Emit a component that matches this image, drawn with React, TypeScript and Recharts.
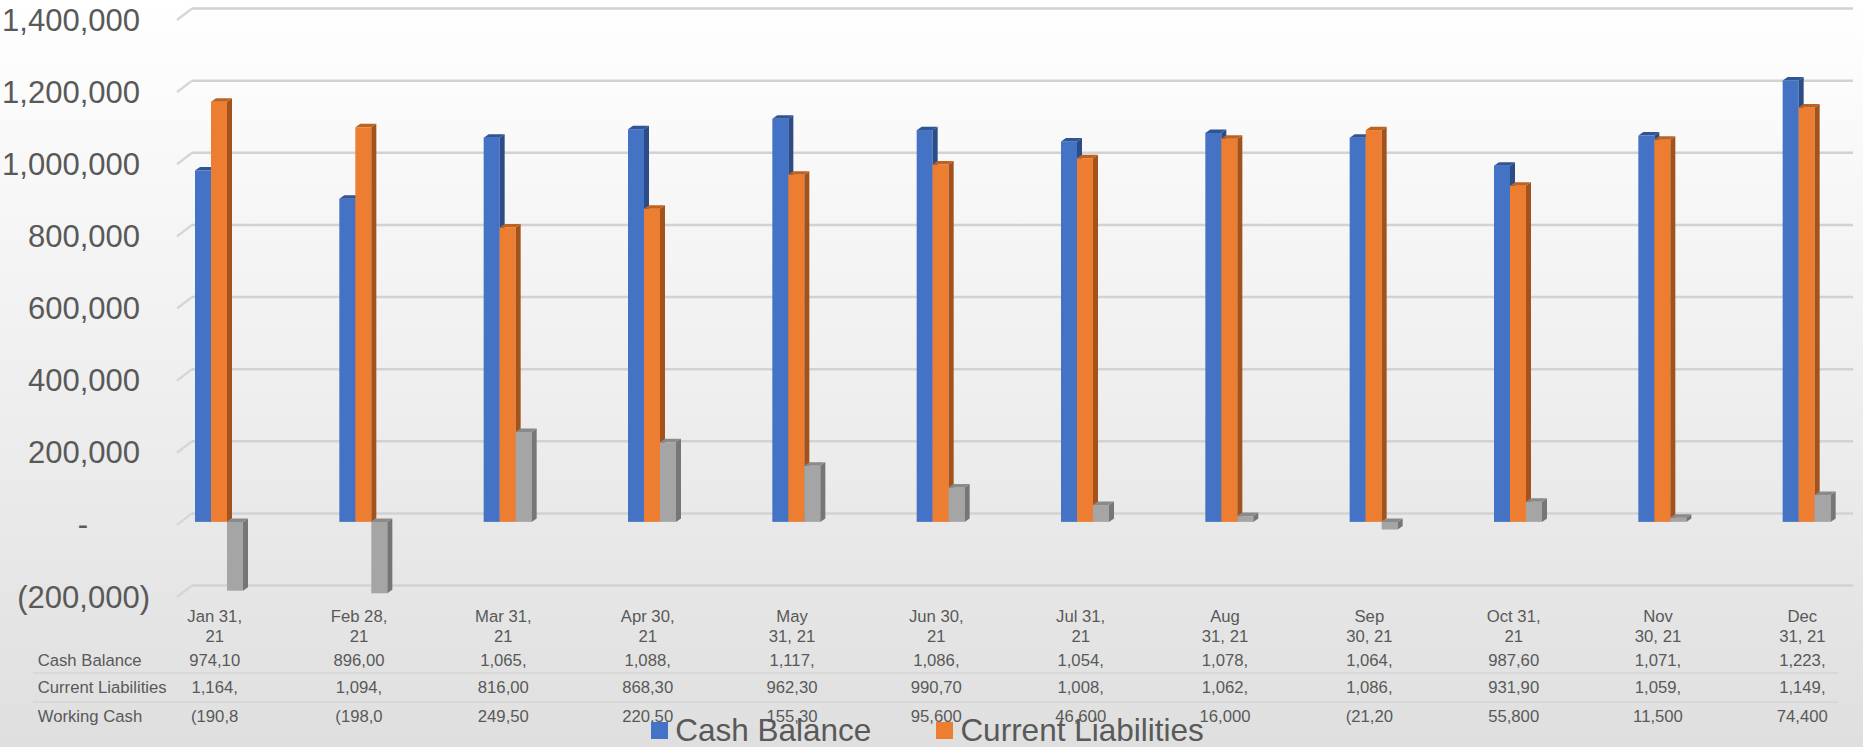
import React from 'react';
import { BarChart, Bar, XAxis, YAxis, CartesianGrid } from 'recharts';

const categories = [
  'Jan 31,\n21', 'Feb 28,\n21', 'Mar 31,\n21', 'Apr 30,\n21', 'May\n31, 21', 'Jun 30,\n21',
  'Jul 31,\n21', 'Aug\n31, 21', 'Sep\n30, 21', 'Oct 31,\n21', 'Nov\n30, 21', 'Dec\n31, 21',
];
const cashBalance = [974100, 896000, 1065500, 1088800, 1117600, 1086300, 1054900, 1078500, 1064900, 987600, 1071100, 1223600];
const currentLiabilities = [1164900, 1094000, 816000, 868300, 962300, 990700, 1008300, 1062500, 1086100, 931900, 1059600, 1149200];
const workingCash = [-190800, -198000, 249500, 220500, 155300, 95600, 46600, 16000, -21200, 55800, 11500, 74400];
const yTicks = [-200000, 0, 200000, 400000, 600000, 800000, 1000000, 1200000, 1400000];

const series = [
  { key: 'cash', name: 'Cash Balance', values: cashBalance, color: '#4472C4', top: '#2F5597', side: '#2B4C86' },
  { key: 'liab', name: 'Current Liabilities', values: currentLiabilities, color: '#ED7D31', top: '#C0621F', side: '#A4521B' },
  { key: 'wc', name: 'Working Cash', values: workingCash, color: '#A5A5A5', top: '#8A8A8A', side: '#767676' },
];

const data = categories.map((c, i) => ({
  cat: c,
  cash: cashBalance[i],
  liab: currentLiabilities[i],
  wc: workingCash[i],
}));

const FONT = '"Liberation Sans", Arial, sans-serif';
const TXT = '#595959';

const fmt = (v: number) => Math.round(Math.abs(v)).toString().replace(/\B(?=(\d{3})+(?!\d))/g, ',');
const cellText = (v: number) => (v < 0 ? `(${fmt(v)})` : fmt(v)).slice(0, 6);

const make3D = (color: string, topC: string, sideC: string) => (props: any) => {
  const { x, y, width, height } = props;
  if (x == null || y == null || width == null || height == null) return <g />;
  const top = Math.min(y, y + height);
  const h = Math.abs(height);
  const dx = 5;
  const dy = 3.5;
  return (
    <g>
      <rect x={x} y={top} width={width} height={h} fill={color} />
      <polygon
        points={`${x + width},${top} ${x + width + dx},${top - dy} ${x + width + dx},${top + h - dy} ${x + width},${top + h}`}
        fill={sideC}
      />
      <polygon
        points={`${x},${top} ${x + dx},${top - dy} ${x + width + dx},${top - dy} ${x + width},${top}`}
        fill={topC}
      />
    </g>
  );
};

const gridLine = (p: any) => {
  const { x1, x2, y1, index } = p;
  return (
    <g key={`grid-${index}-${y1}`}>
      <line x1={x1 + 30} y1={y1 + 3} x2={x1 + 45} y2={y1 - 8.5} stroke="#d6d6d6" strokeWidth={2.5} />
      <line x1={x1 + 45} y1={y1 - 8.5} x2={x2 - 26} y2={y1 - 8.5} stroke="#d2d2d2" strokeWidth={2.5} />
    </g>
  );
};

const YTick = (p: any) => {
  const { x, y, payload } = p;
  const v = payload.value as number;
  let text: string;
  let end: number;
  if (v < 0) {
    text = `(${fmt(v)})`;
    end = x + 3;
  } else if (v === 0) {
    text = '-';
    end = x - 59;
  } else {
    text = fmt(v);
    end = x - 7;
  }
  return (
    <text x={end} y={y + 3} textAnchor="end" dominantBaseline="central" fontSize={31} fill={TXT} fontFamily={FONT}>
      {text}
    </text>
  );
};

const rowOffsets = [66, 93.7, 122];

const TableTick = (p: any) => {
  const { x, y, index, payload } = p;
  const lines = String(payload.value).split('\n');
  const cx = x - 4.5;
  const common = { textAnchor: 'middle' as const, dominantBaseline: 'central' as const, fontSize: 16.7, fill: TXT, fontFamily: FONT };
  return (
    <g>
      <text x={cx} y={y + 22.7} {...common}>{lines[0]}</text>
      <text x={cx} y={y + 42} {...common}>{lines[1]}</text>
      {series.map((s, k) => (
        <text key={s.key} x={cx} y={y + rowOffsets[k]} {...common}>{cellText(s.values[index])}</text>
      ))}
    </g>
  );
};

export default function App() {
  return (
    <div
      style={{
        position: 'absolute',
        left: 0,
        top: 0,
        width: 1863,
        height: 747,
        overflow: 'hidden',
        background: 'linear-gradient(to bottom, #ffffff 0%, #ececec 60%, #dfdfdf 100%)',
      }}
    >
      <BarChart
        width={1880}
        height={747}
        data={data}
        margin={{ top: 17, right: 1, bottom: 0, left: 0 }}
        barGap={0}
        barSize={16}
      >
        <CartesianGrid vertical={false} horizontal={gridLine} />
        <YAxis
          type="number"
          domain={[-200000, 1400000]}
          ticks={yTicks}
          interval={0}
          width={147}
          axisLine={false}
          tickLine={false}
          tickSize={0}
          tickMargin={0}
          tick={<YTick />}
        />
        <XAxis
          dataKey="cat"
          interval={0}
          height={153}
          axisLine={false}
          tickLine={false}
          tickSize={0}
          tickMargin={0}
          tick={<TableTick />}
        />
        {series.map((s) => (
          <Bar key={s.key} dataKey={s.key} name={s.name} fill={s.color} isAnimationActive={false} shape={make3D(s.color, s.top, s.side)} />
        ))}
      </BarChart>
      <svg width={1863} height={747} style={{ position: 'absolute', left: 0, top: 0, pointerEvents: 'none' }}>
        <line x1={33} y1={673} x2={1838} y2={673} stroke="#d5d5d5" strokeWidth={1.5} />
        <line x1={33} y1={702} x2={1838} y2={702} stroke="#d5d5d5" strokeWidth={1.5} />
        {series.map((s, k) => (
          <text key={s.key} x={37.7} y={594 + rowOffsets[k]} dominantBaseline="central" fontSize={16.7} fill={TXT} fontFamily={FONT}>
            {s.name}
          </text>
        ))}
      </svg>
      <div
        style={{
          position: 'absolute',
          top: 715,
          left: 931.5 - 300 - 4,
          width: 600,
          display: 'flex',
          flexWrap: 'wrap',
          justifyContent: 'center',
          columnGap: 65,
          rowGap: 14,
          fontFamily: FONT,
          fontSize: 31.5,
          lineHeight: 1,
          color: TXT,
        }}
      >
        {series.map((s) => (
          <div key={s.key} style={{ display: 'flex', alignItems: 'center', whiteSpace: 'nowrap' }}>
            <div style={{ width: 17, height: 17, background: s.color, marginRight: 7 }} />
            <span>{s.name}</span>
          </div>
        ))}
      </div>
    </div>
  );
}
